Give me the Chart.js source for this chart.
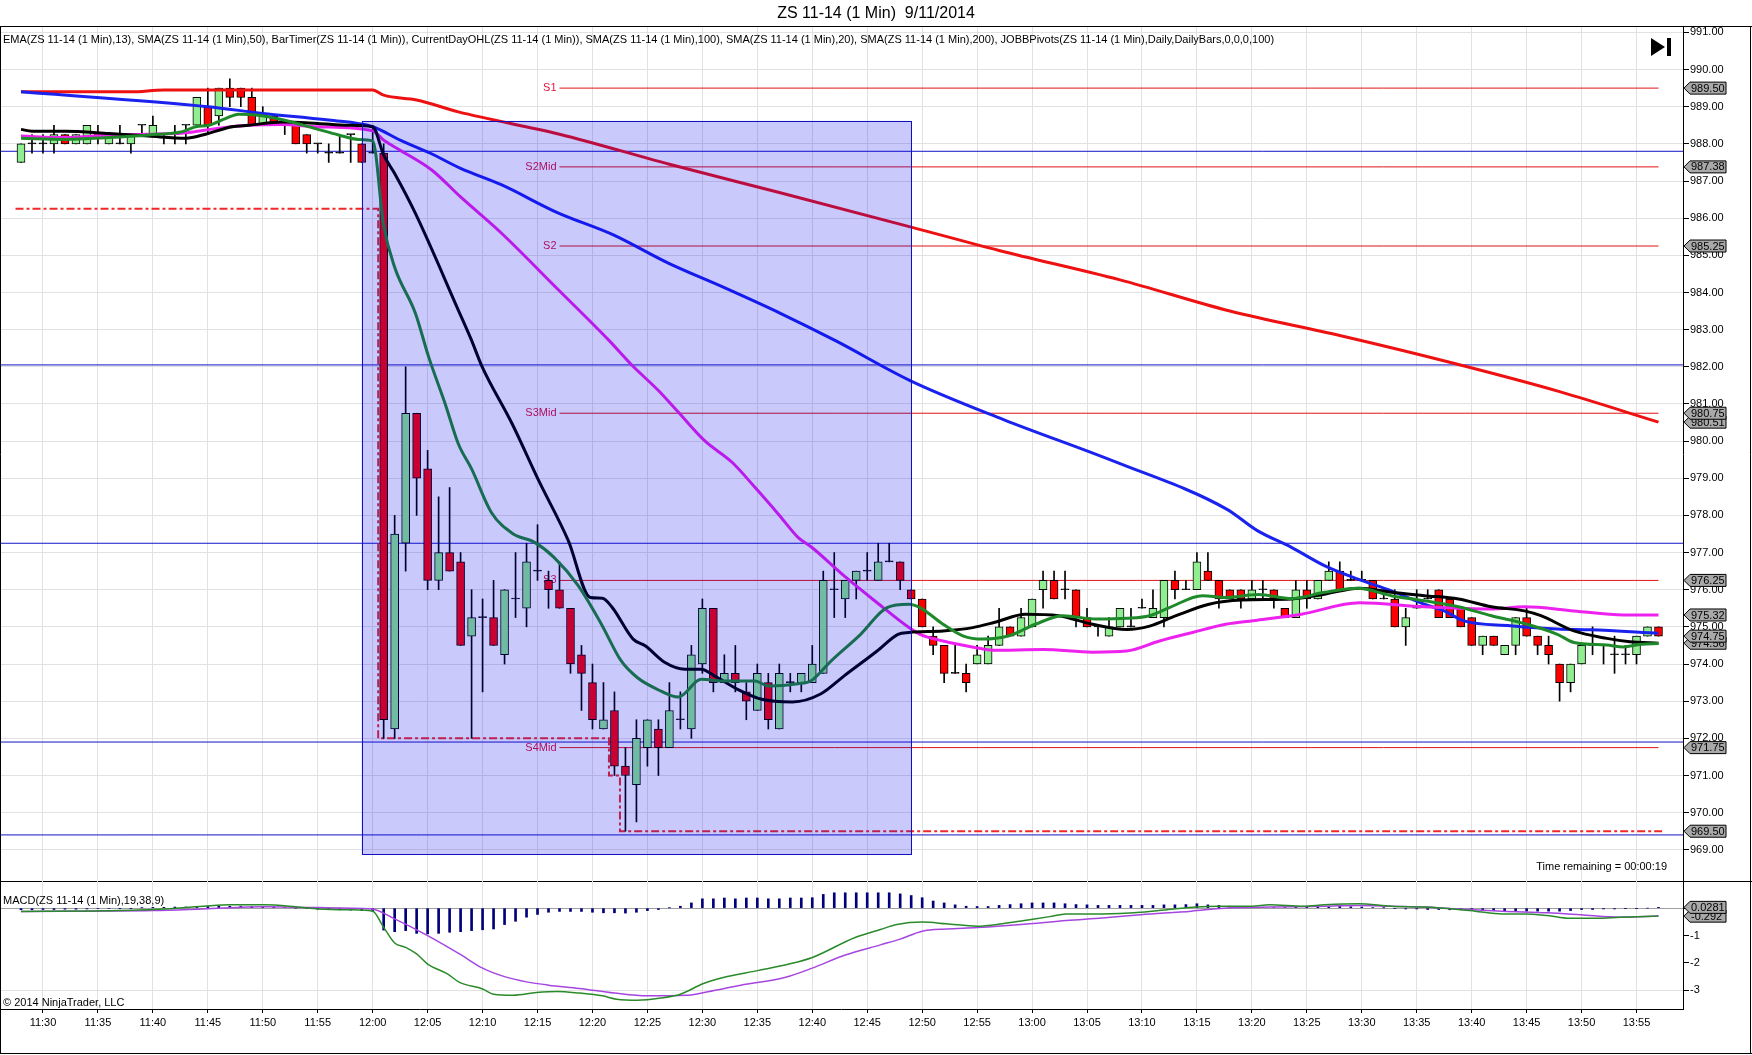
<!DOCTYPE html>
<html>
<head>
<meta charset="utf-8">
<title>ZS 11-14 (1 Min) 9/11/2014</title>
<script src="https://cdn.jsdelivr.net/npm/chart.js@4.4.0/dist/chart.umd.min.js"></script>
<style>
  html, body { margin: 0; padding: 0; background: #fff; }
  #wrap { position: relative; width: 1752px; height: 1055px; overflow: hidden; font-family: "Liberation Sans", Arial, sans-serif; }
  canvas { position: absolute; left: 0; }
  #priceCanvas { top: 0; }
  #macdCanvas { top: 880px; }
  .txt { position: absolute; white-space: nowrap; color: #000; font-size: 11px; line-height: 13px; }
</style>
</head>
<body>
<div id="wrap">
  <canvas id="priceCanvas" width="1752" height="882"></canvas>
  <canvas id="macdCanvas" width="1752" height="175"></canvas>
  <div class="txt" style="left:0;width:1752px;text-align:center;top:4px;font-size:16px;line-height:18px;">ZS 11-14 (1 Min)&nbsp; 9/11/2014</div>
  <div class="txt" style="left:3px;top:33px;">EMA(ZS 11-14 (1 Min),13), SMA(ZS 11-14 (1 Min),50), BarTimer(ZS 11-14 (1 Min)), CurrentDayOHL(ZS 11-14 (1 Min)), SMA(ZS 11-14 (1 Min),100), SMA(ZS 11-14 (1 Min),20), SMA(ZS 11-14 (1 Min),200), JOBBPivots(ZS 11-14 (1 Min),Daily,DailyBars,0,0,0,100)</div>
  <div class="txt" style="right:85px;top:860px;">Time remaining = 00:00:19</div>
  <div class="txt" style="left:3px;top:894px;">MACD(ZS 11-14 (1 Min),19,38,9)</div>
  <div class="txt" style="left:3px;top:996px;">© 2014 NinjaTrader, LLC</div>
</div>
<script>
// first bar is 11:28, one bar per minute
const startMinute = 11 * 60 + 28;

const opens = [
  987.5, 988, 988, 988, 988.25, 988, 988, 988.25, 988, 988,
  988, 988.5, 988.25, 988.25, 988.25, 988.5, 988.5, 989, 988.75, 989.5,
  989.5, 989.25, 988.5, 988.75, 988.5, 988.5, 988.25, 988, 987.75, 987.75,
  988.25, 988, 987.75, 987.75, 972.25, 977.25, 980.75, 979.25, 976.25, 977,
  976.75, 974.75, 975.25, 975.25, 974.25, 975.75, 975.5, 976.5, 976.25, 976,
  975.5, 974.25, 973.5, 972.25, 972.75, 971.25, 970.75, 971.75, 972.25, 971.75,
  972.5, 972.25, 974, 975.5, 973.5, 973.75, 973.25, 972.75, 973.5, 972.25,
  973.5, 973.5, 973.5, 973.75, 976, 975.75, 976.25, 976.5, 976.25, 976.75,
  976.75, 976, 975.75, 974.75, 974.5, 973.75, 973.75, 974, 974, 974.5,
  975, 974.75, 975, 976, 976.25, 976, 976, 975.25, 975, 974.75,
  975, 975, 975.5, 975.25, 975.25, 976.25, 976, 976, 976.5, 976.25,
  976, 976, 975.75, 976, 976, 975.5, 975.25, 976, 975.75, 976.25,
  976.5, 976.25, 976.25, 976.25, 975.75, 975.75, 975, 975.5, 975.75, 976,
  975.75, 975.5, 975.25, 974.5, 974.75, 974.25, 974.5, 975.25, 974.75, 974.5,
  974, 973.5, 974, 974.5, 974.5, 974.25, 974.25, 974.25, 974.75, 975
];
const highs = [
  988, 988.25, 988.25, 988.5, 988.25, 988.25, 988.5, 988.5, 988.25, 988.5,
  988.25, 988.5, 988.75, 988.25, 988.5, 988.5, 989.25, 989.5, 989.5, 989.75,
  989.5, 989.5, 989, 988.75, 988.5, 988.5, 988.25, 988, 988, 988.25,
  988.25, 988, 988.5, 988, 978, 982, 980.75, 979.75, 978.5, 978.75,
  977, 976, 975.75, 976.25, 976, 977, 977.25, 977.75, 976.5, 976.75,
  975.5, 974.5, 974, 973.5, 973.25, 971.75, 972.5, 972.5, 972.5, 973.5,
  973.25, 974.5, 975.75, 975.5, 974.25, 974.5, 973.5, 974, 973.75, 974,
  973.75, 973.75, 974.5, 976.5, 977, 976.25, 976.5, 977, 977.25, 977.25,
  976.75, 976, 975.75, 975, 974.5, 974.5, 974, 974.5, 974.75, 975.5,
  975, 975.5, 975.75, 976.5, 976.5, 976.5, 976, 975.5, 975, 975.25,
  975.5, 975.5, 975.75, 976, 976.25, 976.5, 976.25, 977, 977, 976.25,
  976, 976, 976.25, 976.25, 976, 975.5, 976.25, 976.25, 976.25, 976.75,
  976.75, 976.5, 976.5, 976.25, 976, 976, 975.5, 976, 976, 976,
  975.75, 975.5, 975.25, 974.75, 974.75, 974.5, 975.25, 975.5, 974.75, 974.75,
  974, 974, 974.5, 975, 974.5, 974.75, 974.5, 974.75, 975, 975
];
const lows = [
  987.5, 987.75, 987.75, 987.75, 988, 988, 988, 988, 988, 988,
  987.75, 988.25, 988.25, 988, 988, 988, 988.5, 988.25, 988.5, 989,
  989, 988.5, 988.5, 988.5, 988.25, 988, 987.75, 987.75, 987.5, 987.75,
  987.5, 987.5, 987.75, 972, 972, 976.5, 978, 976, 976, 976.5,
  974.5, 972, 973.25, 974.5, 974, 975.25, 975, 976.25, 975.5, 975.5,
  973.75, 972.75, 972.25, 972.25, 971, 969.5, 969.75, 971.25, 971, 971.75,
  972.25, 972, 973.75, 973.25, 973.5, 973.25, 972.5, 972.75, 972.25, 972.25,
  973.25, 973.25, 973.5, 973.75, 975.25, 975.25, 975.75, 976.25, 976.25, 976.75,
  976, 975.75, 975, 974.25, 973.5, 973.75, 973.25, 974, 974, 974.5,
  974.75, 974.75, 975, 975.5, 975.75, 975.75, 975, 975, 974.75, 974.75,
  975, 975, 975.5, 975.25, 975, 975.75, 976, 976, 976.25, 975.5,
  975.75, 975.5, 975.75, 975.75, 975.5, 975.25, 975.25, 975.5, 975.75, 976.25,
  976, 976.25, 976.25, 975.75, 975.75, 975, 974.5, 975.5, 975.75, 975.25,
  975.25, 975, 974.5, 974.25, 974.5, 974.25, 974.25, 974.75, 974.25, 974,
  973, 973.25, 974, 974.25, 974, 973.75, 974, 974, 974.75, 974.75
];
const closes = [
  988, 988, 988, 988.25, 988, 988.25, 988.5, 988.25, 988.25, 988,
  988.25, 988.5, 988.5, 988.25, 988.25, 988.5, 989.25, 988.5, 989.5, 989.25,
  989.25, 988.5, 988.75, 988.5, 988.5, 988, 988, 988, 987.75, 987.75,
  988.25, 987.5, 987.75, 972.5, 977.5, 980.75, 979, 976.25, 977, 976.5,
  974.5, 975.25, 975.25, 974.5, 976, 975.75, 976.75, 976.5, 976, 975.5,
  974, 973.75, 972.5, 972.5, 971.25, 971, 972, 972.5, 971.75, 972.75,
  972.5, 974.25, 975.5, 973.5, 973.75, 973.5, 973, 973.75, 972.5, 973.75,
  973.5, 973.75, 974, 976.25, 976, 976.25, 976.5, 976.5, 976.75, 976.75,
  976.25, 975.75, 975, 974.5, 973.75, 973.75, 973.5, 974.25, 974.5, 975,
  974.75, 975.25, 975.75, 976.25, 975.75, 976, 975.25, 975, 975, 975,
  975.5, 975, 975.5, 975.5, 976.25, 976, 976, 976.75, 976.25, 975.75,
  975.75, 975.75, 976, 976, 975.75, 975.25, 976, 975.75, 976.25, 976.5,
  976, 976.25, 976.25, 975.75, 975.75, 975, 975.25, 975.5, 975.75, 975.25,
  975.25, 975, 974.5, 974.75, 974.5, 974.5, 975.25, 974.75, 974.5, 974.25,
  973.5, 974, 974.5, 974.5, 974.5, 974.25, 974.25, 974.75, 975, 974.75
];

// moving averages: [minutes after 11:28, price]
const ema13 = [[0,988.15],[4,988.12],[8,988.17],[11.6,988.24],[14.7,988.33],[15.9,988.46],[17.1,988.5],[18.6,988.68],[19.8,988.8],[21.6,988.77],[23.8,988.65],[26.8,988.41],[28.9,988.24],[30.7,988.12],[32,988.08],[33,985.8],[34,984.68],[35.9,983.43],[37.1,982.26],[38.6,981.0],[39.8,979.92],[41,979.25],[42.8,978.08],[44.8,977.5],[46.7,977.28],[48.5,976.87],[50.7,976.11],[52.8,975.08],[54.6,974.09],[56.1,973.63],[57.9,973.32],[59.8,973.11],[61.9,973.59],[64,973.54],[66.8,973.54],[68,973.41],[70.7,973.47],[71.9,973.55],[73.7,974.08],[76.4,974.8],[78.8,975.52],[80.8,975.61],[81.8,975.52],[83.9,975.07],[85.7,974.76],[87.5,974.67],[89.9,974.76],[92.3,975.07],[94.8,975.3],[97.8,975.21],[100.6,975.23],[102.7,975.3],[104.5,975.52],[107.5,975.84],[109.6,975.79],[112.6,975.87],[115.6,975.76],[118.6,975.93],[121.6,976.04],[124.7,975.84],[127.7,975.7],[130.8,975.54],[133.8,975.3],[136.8,975.09],[139.8,974.8],[141.3,974.58],[144.3,974.51],[145.8,974.46],[147.4,974.53],[149,974.55]];
const sma20 = [[0,988.39],[1,988.34],[4,988.34],[8,988.28],[11.6,988.21],[15,988.15],[16.8,988.26],[19.2,988.46],[20.7,988.5],[23.8,988.59],[27,988.55],[29.8,988.5],[32,988.46],[33,987.7],[34,987.2],[35.9,986.12],[39.8,983.52],[41,982.71],[41.9,982.04],[44.7,980.46],[47.1,978.94],[49.8,977.32],[51.8,975.79],[52.9,975.77],[53.8,975.52],[55.7,974.67],[56.8,974.49],[58.6,974.04],[60.4,973.86],[61.9,973.86],[63.1,973.68],[65.2,973.32],[67.4,973.05],[70.2,972.98],[72.8,973.2],[74.9,973.68],[77.9,974.35],[79.8,974.8],[80.8,974.85],[83.9,974.89],[86.6,974.98],[88.7,975.13],[91.4,975.34],[94.4,975.3],[97.5,975.07],[100.6,974.93],[102.7,975.02],[105.1,975.3],[108.1,975.61],[111.1,975.72],[115.6,975.75],[118.6,975.88],[121.8,976.04],[124.7,975.93],[127.7,975.84],[130.8,975.75],[133.8,975.54],[136.8,975.43],[138.3,975.3],[141.3,974.89],[144.3,974.69],[146.4,974.6],[149,974.56]];
const sma50 = [[0,988.21],[4,988.17],[8,988.24],[11.6,988.26],[15,988.3],[17.7,988.41],[20.7,988.5],[23.8,988.52],[27,988.46],[32,988.35],[33,988.1],[34.5,987.83],[37.4,987.29],[40,986.57],[43.7,985.6],[48.8,984.1],[53.5,982.71],[55.6,982.04],[58,981.36],[59.8,980.78],[62.2,980.01],[64.7,979.43],[66.8,978.75],[68.9,978.04],[70.7,977.41],[72,977.13],[74.9,976.37],[77.9,975.65],[80.8,974.98],[81.8,974.8],[83.9,974.62],[86.9,974.44],[88.4,974.37],[93,974.39],[97.5,974.32],[100.6,974.35],[103.6,974.62],[106.6,974.85],[109.6,975.07],[112.5,975.18],[116.5,975.34],[121.8,975.65],[127.7,975.54],[133.7,975.48],[136.8,975.54],[141.3,975.43],[145.8,975.32],[149,975.32]];
const sma100 = [[0,989.40],[17,989.0],[22,988.82],[28,988.64],[32,988.46],[34.5,988.1],[37.3,987.74],[40,987.34],[43.7,986.9],[48.8,986.15],[53.9,985.55],[58.9,984.79],[64,984.13],[69.1,983.44],[74.2,982.69],[80.9,981.63],[89.4,980.58],[99.6,979.44],[109.7,978.17],[112.5,977.59],[115.6,977.14],[118.6,976.65],[121.6,976.29],[124.7,975.97],[127.7,975.61],[129.5,975.43],[131.3,975.16],[135.5,975.03],[139.8,974.94],[142.8,974.92],[149,974.83]];
const sma200 = [[0,989.40],[10,989.40],[13,989.45],[32,989.45],[33,989.31],[36,989.18],[39.8,988.86],[49,988.26],[59,987.45],[69,986.69],[81,985.76],[89,985.13],[100,984.34],[110,983.50],[120,982.84],[130,982.12],[140,981.33],[149,980.51]];

// JOBB pivots
const pivotNames = ['S1', 'S2Mid', 'S2', 'S3Mid', 'S3', 'S4Mid'];
const pivotLevels = [989.5, 987.38, 985.25, 980.75, 976.25, 971.75];
const pivotSpan = [49, 149];
// hand drawn horizontal lines
const drawnLines = [987.8, 982.05, 977.25, 971.9, 969.4];
// current day low (CurrentDayOHL)
const dayLow = [[-0.5,986.25],[32.5,986.25],[32.5,972],[53.5,972],[53.5,971],[54.5,971],[54.5,969.5],[149.6,969.5]];
// shaded rectangle: minutes after 11:28 and prices
const boxSpan = [31, 81];
const boxPrices = [988.62, 968.88];
// right axis markers (drawn in this order)
const priceTags = [989.50, 987.38, 985.25, 980.51, 980.75, 976.25, 975.32, 974.56, 974.75, 971.75, 969.50];
const macdTags = [-0.292, 0.0281];

// MACD(19,38,9)
const macdHist = [
  -0.06, -0.06, -0.05, -0.05, -0.04, -0.04, -0.03, -0.02, -0.02, -0.01,
  -0.01, 0.01, 0.03, 0.03, 0.04, 0.04, 0.05, 0.06, 0.07, 0.07,
  0.07, 0.06, 0.05, 0.04, 0.02, 0.0, -0.02, -0.04, -0.05, -0.06,
  -0.07, -0.08, -0.09, -0.8, -0.86, -0.82, -0.92, -0.94, -0.92, -0.88,
  -0.86, -0.82, -0.79, -0.76, -0.6, -0.48, -0.33, -0.23, -0.15, -0.12,
  -0.12, -0.12, -0.15, -0.17, -0.17, -0.18, -0.15, -0.09, -0.05, 0.01,
  0.07, 0.19, 0.34, 0.34, 0.37, 0.34, 0.37, 0.37, 0.34, 0.34,
  0.37, 0.37, 0.38, 0.5, 0.56, 0.56, 0.56, 0.56, 0.56, 0.56,
  0.52, 0.46, 0.38, 0.26, 0.19, 0.12, 0.07, 0.06, 0.06, 0.1,
  0.13, 0.16, 0.19, 0.19, 0.19, 0.16, 0.13, 0.12, 0.1, 0.1,
  0.1, 0.1, 0.1, 0.1, 0.12, 0.12, 0.13, 0.16, 0.12, 0.1,
  0.07, 0.06, 0.04, 0.03, 0.02, 0.02, 0.03, 0.04, 0.05, 0.05,
  0.06, 0.05, 0.04, 0.02, 0.01, -0.02, -0.03, -0.03, -0.05, -0.05,
  -0.06, -0.06, -0.09, -0.09, -0.09, -0.11, -0.11, -0.11, -0.11, -0.11,
  -0.11, -0.09, -0.05, -0.05, -0.03, -0.03, -0.01, -0.01, 0.0, 0.03
];
const macdLine = [[0,-0.12],[6.7,-0.1],[12,-0.05],[16.6,0.07],[19,0.12],[22.1,0.12],[25,0.05],[27.1,-0.03],[30,-0.06],[32,-0.11],[33,-0.7],[34,-1.27],[35,-1.43],[36,-1.67],[37,-2.04],[38.8,-2.4],[39.9,-2.71],[42,-2.95],[43,-3.14],[44.8,-3.18],[46.9,-3.08],[48.8,-3.04],[50.8,-3.1],[52.9,-3.2],[54.2,-3.32],[56.1,-3.36],[58.2,-3.28],[60,-3.14],[62.1,-2.75],[63.9,-2.53],[67,-2.28],[69.9,-2.04],[72,-1.8],[75.9,-1.07],[78.2,-0.78],[79.7,-0.6],[82,-0.51],[84.2,-0.57],[87,-0.66],[89.3,-0.57],[91.3,-0.45],[93.6,-0.31],[95.1,-0.21],[98.4,-0.21],[101.9,-0.15],[104.9,-0.03],[106.9,0.04],[109,0.07],[112,0.07],[113.6,0.12],[116.7,0.07],[118.6,0.12],[121.7,0.16],[124.7,0.07],[127.8,0.04],[130.8,-0.05],[132.3,-0.11],[134.8,-0.21],[136.9,-0.21],[138.9,-0.27],[140.9,-0.37],[143.4,-0.37],[145.5,-0.33],[149,-0.29]];
const macdSignal = [[0,-0.12],[12,-0.09],[16.6,-0.03],[22.1,0.05],[27.1,0.02],[31.9,-0.03],[34,-0.39],[37,-1.0],[39.9,-1.67],[42,-2.19],[44,-2.5],[46,-2.69],[48,-2.81],[50.8,-2.93],[54,-3.1],[57,-3.2],[60.5,-3.18],[62.5,-3.05],[65.5,-2.81],[69.5,-2.53],[72,-2.19],[75,-1.71],[78.2,-1.34],[80,-1.13],[82,-0.84],[84.2,-0.76],[87,-0.71],[91.8,-0.57],[95.1,-0.45],[98.4,-0.36],[101.9,-0.24],[106.5,-0.11],[109.5,0.0],[113.6,0.04],[118.6,0.07],[121.7,0.1],[124.7,0.07],[127.8,0.04],[130.8,-0.03],[134.8,-0.11],[138.9,-0.17],[141.9,-0.24],[145.5,-0.33],[149,-0.29]];

const FONT = '"Liberation Sans", Arial, sans-serif';
const GRID = '#e2e2e2';
const xMin = startMinute - 1.82;
const xMax = startMinute + 151.23;
const clock = m => Math.floor(m / 60) + ':' + String(Math.round(m) % 60).padStart(2, '0');
const pts = arr => arr.map(p => ({ x: startMinute + p[0], y: p[1] }));
const hline = (v, a, b) => [{ x: a, y: v }, { x: b, y: v }];

function drawTag(ctx, x, y, text) {
  const h = 12, w = 42, tip = 6;
  ctx.beginPath();
  ctx.moveTo(x, y);
  ctx.lineTo(x + tip, y - h / 2);
  ctx.lineTo(x + w, y - h / 2);
  ctx.lineTo(x + w, y + h / 2);
  ctx.lineTo(x + tip, y + h / 2);
  ctx.closePath();
  ctx.fillStyle = '#a9a9a9';
  ctx.fill();
  ctx.strokeStyle = '#000';
  ctx.lineWidth = 1;
  ctx.stroke();
  ctx.fillStyle = '#000';
  ctx.textAlign = 'left';
  ctx.textBaseline = 'middle';
  ctx.fillText(text, x + tip + 1, y + 0.5);
}

// outer frame: right edge and bottom edge of the whole picture
function frameEdge(ctx, chart, top, bottom) {
  ctx.beginPath();
  ctx.moveTo(chart.width - 1.5, top); ctx.lineTo(chart.width - 1.5, bottom);
  ctx.moveTo(0.5, top); ctx.lineTo(0.5, bottom);
  ctx.stroke();
}

const priceOverlay = {
  id: 'priceOverlay',
  beforeDatasetsDraw(chart) {
    const { ctx, scales: { x, y } } = chart;
    ctx.save();
    ctx.font = '11px ' + FONT;
    ctx.fillStyle = '#dc143c';
    ctx.textAlign = 'right';
    ctx.textBaseline = 'middle';
    const lx = x.getPixelForValue(startMinute + pivotSpan[0]) - 3;
    pivotLevels.forEach((lv, k) => ctx.fillText(pivotNames[k], lx, y.getPixelForValue(lv)));
    ctx.restore();
  },
  afterDatasetsDraw(chart) {
    const { ctx, scales: { x, y } } = chart;
    const x0 = x.getPixelForValue(startMinute + boxSpan[0]);
    const x1 = x.getPixelForValue(startMinute + boxSpan[1]);
    const y0 = y.getPixelForValue(boxPrices[0]);
    const y1 = y.getPixelForValue(boxPrices[1]);
    ctx.save();
    ctx.fillStyle = 'rgba(0, 0, 235, 0.21)';
    ctx.fillRect(x0, y0, x1 - x0, y1 - y0);
    ctx.strokeStyle = '#1010c0';
    ctx.lineWidth = 1;
    ctx.strokeRect(Math.round(x0) + 0.5, Math.round(y0) + 0.5, Math.round(x1 - x0), Math.round(y1 - y0));
    ctx.restore();
  },
  afterDraw(chart) {
    const { ctx, chartArea: a, scales: { y } } = chart;
    ctx.save();
    ctx.strokeStyle = '#000';
    ctx.lineWidth = 1;
    ctx.beginPath();
    ctx.moveTo(0, a.top - 0.5); ctx.lineTo(chart.width, a.top - 0.5);
    ctx.moveTo(0, a.bottom + 0.5); ctx.lineTo(chart.width, a.bottom + 0.5);
    ctx.stroke();
    frameEdge(ctx, chart, a.top - 0.5, a.bottom + 1);
    // go-to-end button
    ctx.fillStyle = '#000';
    ctx.beginPath();
    ctx.moveTo(a.right - 32, a.top + 11);
    ctx.lineTo(a.right - 18, a.top + 20);
    ctx.lineTo(a.right - 32, a.top + 29);
    ctx.closePath();
    ctx.fill();
    ctx.fillRect(a.right - 16, a.top + 11, 4, 18);
    ctx.font = '11px ' + FONT;
    priceTags.forEach(v => drawTag(ctx, a.right + 1, y.getPixelForValue(v), v.toFixed(2)));
    ctx.restore();
  }
};

const macdOverlay = {
  id: 'macdOverlay',
  afterDraw(chart) {
    const { ctx, chartArea: a, scales: { y } } = chart;
    ctx.save();
    ctx.strokeStyle = '#000';
    ctx.lineWidth = 1;
    ctx.beginPath();
    ctx.moveTo(0, a.bottom + 0.5); ctx.lineTo(a.right, a.bottom + 0.5);
    ctx.moveTo(0, chart.height - 1.5); ctx.lineTo(chart.width, chart.height - 1.5);
    ctx.stroke();
    frameEdge(ctx, chart, 0, chart.height - 1.5);
    ctx.font = '11px ' + FONT;
    macdTags.forEach(v => drawTag(ctx, a.right + 1, y.getPixelForValue(v), String(v)));
    ctx.restore();
  }
};

const xScale = (showLabels) => ({
  type: 'linear',
  min: xMin,
  max: xMax,
  offset: false,
  ticks: {
    display: showLabels, stepSize: 5, includeBounds: false, autoSkip: false, maxRotation: 0,
    padding: 3, color: '#000', font: { family: FONT, size: 11 },
    callback: v => clock(v)
  },
  grid: { color: GRID, drawTicks: showLabels, tickLength: 4, tickColor: '#000', offset: false },
  border: { display: false },
  afterFit: s => { s.height = showLabels ? 46 : 0; s.paddingLeft = 0; s.paddingRight = 0; }
});

const yFit = s => { s.width = 69; s.paddingTop = 0; s.paddingBottom = 0; };

const candleColor = i => closes[i] > opens[i] ? '#90ee90' : (closes[i] < opens[i] ? '#ff0000' : '#000');

const priceDatasets = [];
drawnLines.forEach(v => priceDatasets.push({
  type: 'line', data: hline(v, xMin, xMax), borderColor: '#1414c8', borderWidth: 1,
  pointRadius: 0, order: 30
}));
pivotLevels.forEach(v => priceDatasets.push({
  type: 'line', data: hline(v, startMinute + pivotSpan[0], startMinute + pivotSpan[1]),
  borderColor: '#e01414', borderWidth: 1, pointRadius: 0, order: 29
}));
priceDatasets.push({
  type: 'line', data: pts(dayLow), borderColor: '#f02828', borderWidth: 2,
  borderDash: [8, 3, 3, 3], pointRadius: 0, order: 28
});
priceDatasets.push({
  type: 'bar', label: 'wick',
  data: opens.map((o, i) => ({ x: startMinute + i, y: [lows[i], highs[i]] })),
  backgroundColor: '#000', borderWidth: 0, barThickness: 1, grouped: false, order: 20
});
priceDatasets.push({
  type: 'bar', label: 'body',
  data: opens.map((o, i) => ({ x: startMinute + i, y: [o, closes[i]] })),
  backgroundColor: c => candleColor(c.dataIndex),
  borderColor: '#000', borderWidth: 1, borderSkipped: false,
  barThickness: 8, minBarLength: 1, grouped: false, order: 19
});
[[sma200, '#ee1111'], [sma100, '#1a22ee'], [sma50, '#ee22ee'], [sma20, '#000000'], [ema13, '#1e8a2a']]
  .forEach(([d, col], k) => priceDatasets.push({
    type: 'line', data: pts(d), borderColor: col, borderWidth: 3, pointRadius: 0,
    cubicInterpolationMode: 'monotone', order: 10 - k
  }));

new Chart(document.getElementById('priceCanvas'), {
  type: 'bar',
  data: { datasets: priceDatasets },
  options: {
    responsive: false,
    animation: false,
    events: [],
    layout: { padding: { top: 27, left: 1, right: 0, bottom: 1 } },
    plugins: { legend: { display: false }, tooltip: { enabled: false } },
    scales: {
      x: xScale(false),
      y: {
        type: 'linear', position: 'right', min: 968.16, max: 991.145,
        ticks: { stepSize: 1, includeBounds: false, padding: 1, color: '#000',
                 font: { family: FONT, size: 11 }, callback: v => v.toFixed(2) },
        grid: { color: GRID, tickColor: '#000', tickLength: 6 },
        border: { color: '#000' },
        afterFit: yFit
      }
    }
  },
  plugins: [priceOverlay]
});

new Chart(document.getElementById('macdCanvas'), {
  type: 'bar',
  data: {
    datasets: [
      { type: 'bar', data: macdHist.map((v, i) => ({ x: startMinute + i, y: v })),
        backgroundColor: '#00007a', barThickness: 2, grouped: false, order: 5 },
      { type: 'line', data: pts(macdSignal), borderColor: '#a646e0', borderWidth: 1.5,
        pointRadius: 0, cubicInterpolationMode: 'monotone', order: 2 },
      { type: 'line', data: pts(macdLine), borderColor: '#2a8a2a', borderWidth: 1.5,
        pointRadius: 0, cubicInterpolationMode: 'monotone', order: 1 }
    ]
  },
  options: {
    responsive: false,
    animation: false,
    events: [],
    layout: { padding: { top: 1, left: 1, right: 0, bottom: 0 } },
    plugins: { legend: { display: false }, tooltip: { enabled: false } },
    scales: {
      x: xScale(true),
      y: {
        type: 'linear', position: 'right', min: -3.68, max: 0.99,
        ticks: { stepSize: 1, includeBounds: false, padding: 1, color: '#000',
                 font: { family: FONT, size: 11 }, callback: v => String(v) },
        grid: {
          color: c => c.tick && c.tick.value === 0 ? '#a0a0a0' : (c.tick && c.tick.value === -3 ? GRID : 'rgba(0,0,0,0)'),
          tickColor: '#000', tickLength: 6
        },
        border: { color: '#000' },
        afterFit: yFit
      }
    }
  },
  plugins: [macdOverlay]
});
</script>
</body>
</html>
